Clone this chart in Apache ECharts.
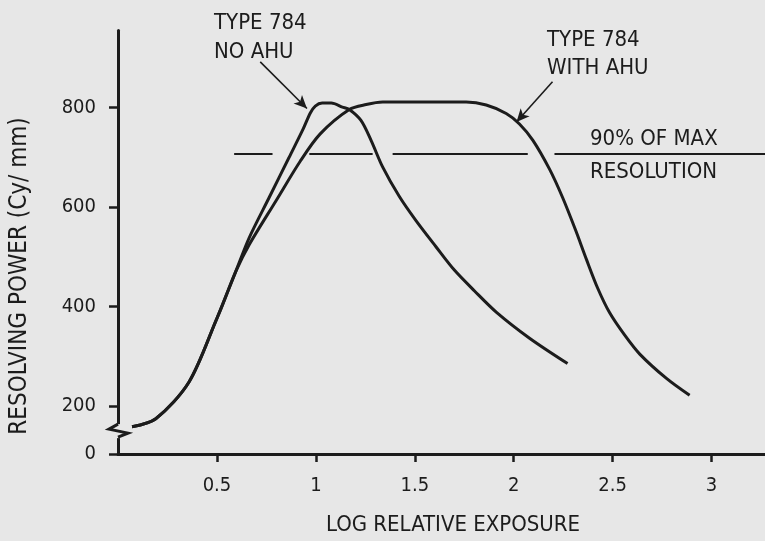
<!DOCTYPE html>
<html>
<head>
<meta charset="utf-8">
<script src="https://cdn.jsdelivr.net/npm/echarts@6/dist/echarts.min.js"></script>
<style>
html, body { margin: 0; padding: 0; background: #e7e7e7; }
#main { width: 765px; height: 541px; }
</style>
</head>
<body>
<div id="main"></div>
<script>
// values
var yTicks = [0, 200, 400, 600, 800]
var xTicks = [0.5, 1, 1.5, 2, 2.5, 3]
var noAhuX = [0.071, 0.191, 0.359, 0.50, 0.528, 0.596, 0.663, 0.764, 0.865, 0.936, 0.972, 0.997, 1.032, 1.078, 1.134, 1.169, 1.228, 1.279, 1.338, 1.422, 1.507, 1.607, 1.700, 1.802, 1.913, 2.080, 2.272]
var noAhuY = [158, 174, 248, 376, 403, 471, 538, 619, 700, 757, 789, 803, 809, 809, 801, 796, 774, 734, 680, 621, 572, 520, 473, 431, 388, 336, 285]
var ahuX = [0.071, 0.191, 0.359, 0.50, 0.528, 0.596, 0.663, 0.798, 0.921, 1.022, 1.169, 1.254, 1.338, 1.760, 1.861, 1.962, 2.029, 2.097, 2.181, 2.247, 2.313, 2.368, 2.424, 2.485, 2.561, 2.637, 2.772, 2.889]
var ahuY = [158, 174, 248, 376, 403, 471, 524, 612, 692, 747, 796, 806, 811, 811, 805, 788, 767, 734, 676, 619, 553, 494, 437, 387, 342, 304, 255, 221]
var level90 = 708
var level90Segments = [[0.587, 0.781], [0.967, 1.287], [1.388, 2.071], [2.206, 3.27]]
var arrowNoAhu = [[0.719, 892], [0.955, 798]]
var arrowAhu = [[2.196, 852], [2.014, 771]]

var ink = '#1c1c1c'
var paper = '#e7e7e7'
var font = "'DejaVu Sans Condensed', 'Liberation Sans Narrow', 'DejaVu Sans', sans-serif"

function pairs(xs, ys) {
  var out = []
  for (var i = 0; i < xs.length; i++) out.push([xs[i], ys[i]])
  return out
}

var markLines = []
for (var i = 0; i < level90Segments.length; i++) {
  markLines.push([{ coord: [level90Segments[i][0], level90] }, { coord: [level90Segments[i][1], level90] }])
}
var arrowLines = [
  [{ coord: arrowNoAhu[0] }, { coord: arrowNoAhu[1] }],
  [{ coord: arrowAhu[0] }, { coord: arrowAhu[1] }]
]

var myChart = echarts.init(document.getElementById('main'))
var option = {
  backgroundColor: paper,
  animation: false,
  grid: { left: 118, right: 0, top: 30, bottom: 86, containLabel: false },
  xAxis: {
    type: 'value',
    min: 0,
    max: 3.27,
    name: 'LOG RELATIVE EXPOSURE',
    nameLocation: 'middle',
    nameGap: 60,
    nameTextStyle: { color: ink, fontSize: 22, fontFamily: font, padding: [0, 0, 0, 23] },
    axisLine: { show: true, onZero: false, lineStyle: { color: ink, width: 3 } },
    axisTick: { show: true, inside: false, length: 8, customValues: xTicks, lineStyle: { color: ink, width: 2.5 } },
    axisLabel: { customValues: xTicks, margin: 22, color: ink, fontSize: 20, fontFamily: font },
    splitLine: { show: false }
  },
  yAxis: {
    type: 'value',
    min: 0,
    max: 956,
    breaks: [{ start: 45, end: 150, gap: 2 }],
    breakArea: { show: false },
    name: 'RESOLVING POWER (Cy/ mm)',
    nameLocation: 'middle',
    nameGap: 86,
    nameTextStyle: { color: ink, fontSize: 24, fontFamily: font, padding: [0, 68, 0, 0] },
    axisLine: { show: true, onZero: false, lineStyle: { color: ink, width: 3 } },
    axisTick: { show: true, inside: false, length: 9, customValues: yTicks, lineStyle: { color: ink, width: 2.5 } },
    axisLabel: { customValues: yTicks, margin: 22, color: ink, fontSize: 20, fontFamily: font },
    splitLine: { show: false }
  },
  series: [
    {
      name: 'NO AHU',
      type: 'line',
      data: pairs(noAhuX, noAhuY),
      smooth: 0.3,
      showSymbol: false,
      silent: true,
      lineStyle: { color: ink, width: 3 },
      markLine: {
        silent: true,
        symbol: ['none', 'none'],
        label: { show: false },
        lineStyle: { color: ink, width: 2, type: 'solid' },
        data: markLines
      }
    },
    {
      name: 'WITH AHU',
      type: 'line',
      data: pairs(ahuX, ahuY),
      smooth: 0.3,
      showSymbol: false,
      silent: true,
      lineStyle: { color: ink, width: 3 },
      markLine: {
        silent: true,
        symbol: ['none', 'arrow'],
        symbolSize: [9, 13],
        label: { show: false },
        lineStyle: { color: ink, width: 1.6, type: 'solid' },
        itemStyle: { color: ink },
        data: arrowLines
      }
    }
  ],
  graphic: [
    { id: 'lblNoAhu', type: 'text', x: 214, y: 9, silent: true,
      style: { text: 'TYPE 784\nNO AHU', fill: ink, font: '22px ' + font, lineHeight: 29, textAlign: 'left', textVerticalAlign: 'top' } },
    { id: 'lblAhu', type: 'text', x: 547, y: 26, silent: true,
      style: { text: 'TYPE 784\nWITH AHU', fill: ink, font: '22px ' + font, lineHeight: 28, textAlign: 'left', textVerticalAlign: 'top' } },
    { id: 'lbl90', type: 'text', x: 590, y: 123, silent: true,
      style: { text: '90% OF MAX\nRESOLUTION', fill: ink, font: '22px ' + font, lineHeight: 33, textAlign: 'left', textVerticalAlign: 'top' } }
  ]
}
myChart.setOption(option)

// zigzag on the y axis where it is broken
var ax = myChart.convertToPixel({ xAxisIndex: 0 }, 0)
var yLo = myChart.convertToPixel({ yAxisIndex: 0 }, 45)
var yHi = myChart.convertToPixel({ yAxisIndex: 0 }, 150)
var yc = (yLo + yHi) / 2
myChart.setOption({
  graphic: [
    { id: 'breakMask', type: 'rect', silent: true, z: 100,
      shape: { x: ax - 3, y: yc - 7, width: 6, height: 14 }, style: { fill: paper } },
    { id: 'breakZig', type: 'polyline', silent: true, z: 101,
      shape: { points: [[ax, yc - 7], [ax - 9, yc - 2], [ax + 10, yc + 2], [ax, yc + 6]] },
      style: { stroke: ink, lineWidth: 3, fill: null, lineJoin: 'miter' } }
  ]
})
</script>
</body>
</html>
